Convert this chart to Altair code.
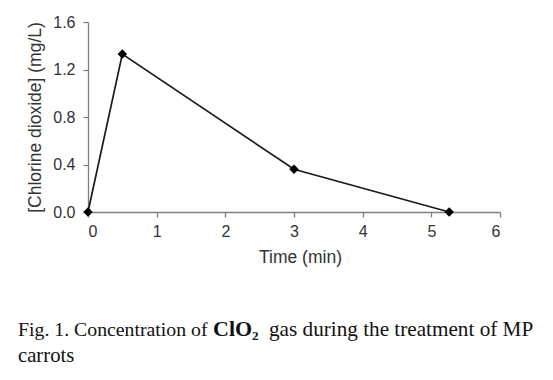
import altair as alt
import pandas as pd

time_min = [0, 0.5, 3.0, 5.26]
clo2 = [0.0, 1.33, 0.36, 0.0]
x_ticks = [0, 1, 2, 3, 4, 5, 6]
y_ticks = [0.0, 0.4, 0.8, 1.2, 1.6]
caption_parts = ["Fig. 1. Concentration of ", "ClO\u2082", " gas during the treatment of MP", "carrots"]

df = pd.DataFrame({"t": time_min, "c": clo2})

W, H = 412, 190

axis_common = dict(
    domainColor="#808080", tickColor="#808080", labelColor="#333", titleColor="#333",
    labelFont="Liberation Sans", titleFont="Liberation Sans",
    labelFontSize=16, titleFontSize=17.5, titleFontWeight="normal",
    grid=False, tickSize=5, domainWidth=1.3, tickWidth=1.3,
)

x = alt.X("t:Q", scale=alt.Scale(domain=[0, 6], nice=False),
          axis=alt.Axis(title="Time (min)", values=x_ticks, format="d",
                        labelPadding=6, titlePadding=9, titleX=212, **axis_common))
y = alt.Y("c:Q", scale=alt.Scale(domain=[0, 1.6], nice=False),
          axis=alt.Axis(title="[Chlorine dioxide] (mg/L)", values=y_ticks, format=".1f",
                        labelPadding=8, titlePadding=8, **axis_common))

line = alt.Chart(df).mark_line(color="#1a1a1a", strokeWidth=1.7).encode(x=x, y=y)
pts = alt.Chart(df).mark_point(shape="diamond", filled=True, color="#000", size=90, opacity=1).encode(x=x, y=y)

cap_df = pd.DataFrame({"k": [0]})
cap_font = "Liberation Serif"
c1 = alt.Chart(cap_df).mark_text(text=caption_parts[0], align="left", baseline="alphabetic",
                                 font=cap_font, fontSize=19.8, color="#111").encode(
    x=alt.value(-70), y=alt.value(314))
c2 = alt.Chart(cap_df).mark_text(text=caption_parts[1], align="left", baseline="alphabetic",
                                 font=cap_font, fontSize=22, fontWeight="bold", color="#111").encode(
    x=alt.value(125), y=alt.value(314))
c3 = alt.Chart(cap_df).mark_text(text=caption_parts[2], align="left", baseline="alphabetic",
                                 font=cap_font, fontSize=21.2, color="#111").encode(
    x=alt.value(181), y=alt.value(314))
c4 = alt.Chart(cap_df).mark_text(text=caption_parts[3], align="left", baseline="alphabetic",
                                 font=cap_font, fontSize=20.7, color="#111").encode(
    x=alt.value(-70), y=alt.value(340))

chart = alt.layer(line, pts, c1, c2, c3, c4).properties(
    width=W, height=H,
    autosize=alt.AutoSizeParams(type="none"),
    padding={"left": 80, "top": 14, "right": 45, "bottom": 156},
).configure_view(stroke=None)

chart.save("out.html", embed_options={"renderer": "svg", "actions": False})
